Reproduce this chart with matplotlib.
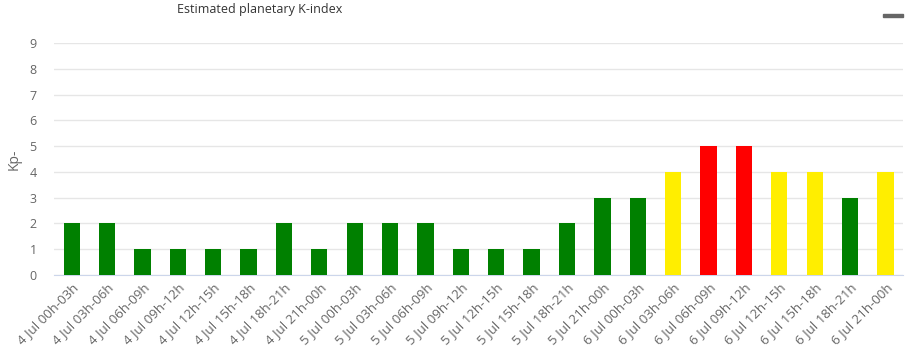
import matplotlib.pyplot as plt
from matplotlib.patches import Rectangle

plt.rcParams['font.family'] = ['Open Sans', 'DejaVu Sans']

periods = ["00h-03h", "03h-06h", "06h-09h", "09h-12h", "12h-15h", "15h-18h", "18h-21h", "21h-00h"]
days = ["4 Jul", "5 Jul", "6 Jul"]
labels = [f"{d} {p}" for d in days for p in periods]
kp = [2, 2, 1, 1, 1, 1, 2, 1,
      2, 2, 2, 1, 1, 1, 2, 3,
      3, 4, 5, 5, 4, 4, 3, 4]


def bar_color(v):
    if v >= 5:
        return "#ff0000"
    if v == 4:
        return "#ffee00"
    return "#008000"


fig = plt.figure(figsize=(9.18, 3.57), dpi=100)
ax = fig.add_axes([0.0588, 0.2297, 0.925, 0.65])

x = range(len(kp))
ax.bar(x, kp, width=0.46, color=[bar_color(v) for v in kp], zorder=3)

ax.set_xlim(-0.5, len(kp) - 0.5)
ax.set_ylim(0, 9)
ax.set_yticks(range(10))
ax.yaxis.grid(True, color="#e6e6e6", linewidth=1, zorder=0)
for s in ["top", "right", "left"]:
    ax.spines[s].set_visible(False)
ax.spines["bottom"].set_color("#ccd6eb")
ax.tick_params(axis="y", length=0, pad=15, labelsize=9, labelcolor="#666666")
ax.tick_params(axis="x", length=0, pad=4, labelsize=9.5, labelcolor="#666666")
ax.set_xticks(list(x))
ax.set_xticklabels(labels, rotation=45, ha="right", rotation_mode="anchor")
for lab in ax.get_yticklabels():
    lab.set_horizontalalignment("center")
ax.set_ylabel("Kp-", color="#666666", fontsize=10, labelpad=6)

fig.text(0.283, 0.972, "Estimated planetary K-index", ha="center", va="center",
         fontsize=9, color="#333333")
fig.patches.append(Rectangle((0.962, 0.952), 0.022, 0.009, transform=fig.transFigure,
                             color="#666666"))

fig.savefig("out.png", dpi=100)
